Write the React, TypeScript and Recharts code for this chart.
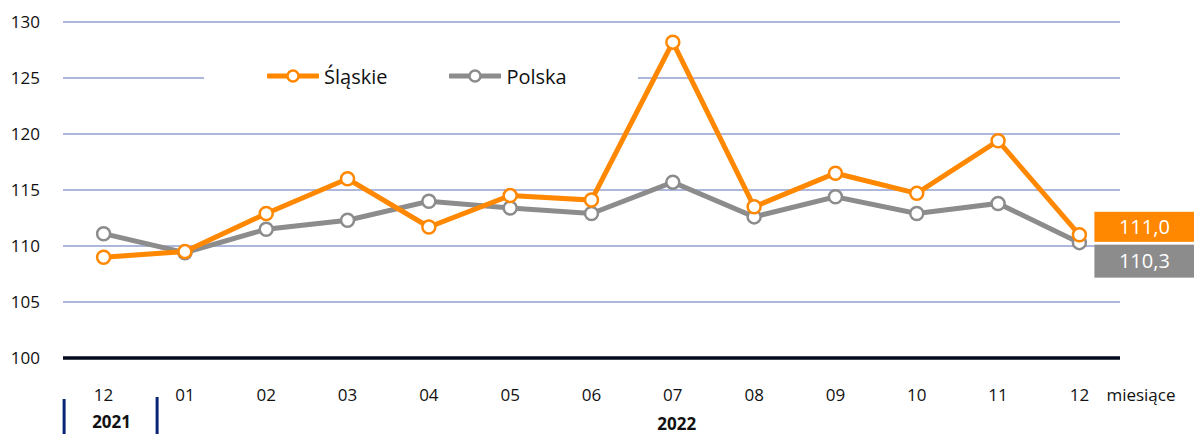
import React from 'react';
import { LineChart, Line, XAxis, YAxis, CartesianGrid, Legend, LabelList } from 'recharts';

const months = ['12', '01', '02', '03', '04', '05', '06', '07', '08', '09', '10', '11', '12'];
const slaskie = [109.0, 109.5, 112.9, 116.0, 111.7, 114.5, 114.1, 128.2, 113.5, 116.5, 114.7, 119.4, 111.0];
const polska = [111.1, 109.4, 111.5, 112.3, 114.0, 113.4, 112.9, 115.7, 112.6, 114.4, 112.9, 113.8, 110.3];
const yTicks = [100, 105, 110, 115, 120, 125, 130];

const ORANGE = '#ff8800';
const GRAY = '#8c8c8c';
const NAVY = '#0a2577';
const FONT = '"Open Sans", sans-serif';

const data = months.map((m, i) => ({ month: m, slaskie: slaskie[i], polska: polska[i] }));

const MonthTick = (props: any) => {
  const { x, y, payload, index } = props;
  const last = index === months.length - 1;
  return (
    <g>
      <text x={x} y={y + 35} textAnchor="middle" fontSize={17} fill="#111" fontFamily={FONT}>
        {payload.value}
      </text>
      {index === 0 && (
        <g>
          <rect x={x - 41} y={y + 33} width={3} height={50} fill={NAVY} />
          <rect x={x + 52} y={y + 31} width={3} height={50} fill={NAVY} />
          <text x={x + 8} y={y + 62} textAnchor="middle" fontSize={17} fontWeight="bold" fill="#111" fontFamily={FONT}>
            2021
          </text>
        </g>
      )}
      {index === 7 && (
        <text x={x + 4} y={y + 64} textAnchor="middle" fontSize={17} fontWeight="bold" fill="#111" fontFamily={FONT}>
          2022
        </text>
      )}
      {last && (
        <text x={x + 27} y={y + 35} textAnchor="start" fontSize={17} fill="#111" fontFamily={FONT}>
          miesiące
        </text>
      )}
    </g>
  );
};

const endLabel = (color: string, up: boolean) => (props: any) => {
  const { x, y, value, index } = props;
  if (index !== months.length - 1) return null;
  const bx = x + 15;
  const by = up ? y - 23 : y + 2;
  const h = up ? 30 : 33;
  return (
    <g>
      <rect x={bx} y={by} width={100} height={h} fill={color} />
      <text x={bx + 50} y={by + h / 2 + 7} textAnchor="middle" fontSize={20} fill="#fff" fontFamily={FONT}>
        {value.toFixed(1).replace('.', ',')}
      </text>
    </g>
  );
};

const LegendIcon = ({ color }: { color: string }) => (
  <svg width={52} height={14} style={{ marginRight: 5 }}>
    <line x1={1} y1={7} x2={51} y2={7} stroke={color} strokeWidth={5} strokeLinecap="round" />
    <circle cx={26} cy={7} r={5.5} fill="#fff" stroke={color} strokeWidth={2.5} />
  </svg>
);

const renderLegend = () => (
  <div style={{ display: 'flex', alignItems: 'center', height: '100%', fontFamily: FONT, fontSize: 20, color: '#111' }}>
    <div style={{ display: 'flex', alignItems: 'center', marginLeft: 63 }}>
      <LegendIcon color={ORANGE} />
      <span>Śląskie</span>
    </div>
    <div style={{ display: 'flex', alignItems: 'center', marginLeft: 62 }}>
      <LegendIcon color={GRAY} />
      <span>Polska</span>
    </div>
  </div>
);

export default function App() {
  return (
    <div style={{ position: 'absolute', left: 0, top: 0, width: 1194, height: 434, background: '#fff' }}>
      <LineChart width={1194} height={434} data={data} margin={{ top: 22, right: 74, bottom: 0, left: 0 }}>
        <CartesianGrid vertical={false} stroke="#5a70b8" strokeWidth={1} />
        <XAxis
          dataKey="month"
          padding={{ left: 40.6, right: 40.6 }}
          axisLine={{ stroke: '#050a1e', strokeWidth: 3.5 }}
          tickLine={false}
          tick={<MonthTick />}
          interval={0}
          height={76}
        />
        <YAxis
          domain={[100, 130]}
          ticks={yTicks}
          axisLine={false}
          tickLine={false}
          width={63}
          tick={{ fontSize: 17, fill: '#111', fontFamily: FONT, dx: -15, dy: 0 }}
        />
        <Legend
          layout="vertical"
          align="center"
          verticalAlign="middle"
          content={renderLegend}
          wrapperStyle={{ position: 'absolute', left: 204, top: 58, width: 434, height: 36, background: '#fff' }}
        />
        <Line
          dataKey="polska"
          name="Polska"
          stroke={GRAY}
          strokeWidth={5}
          dot={{ r: 6.5, fill: '#fff', stroke: GRAY, strokeWidth: 2.5 }}
          isAnimationActive={false}
        >
          <LabelList dataKey="polska" content={endLabel(GRAY, false)} />
        </Line>
        <Line
          dataKey="slaskie"
          name="Śląskie"
          stroke={ORANGE}
          strokeWidth={5}
          dot={{ r: 6.5, fill: '#fff', stroke: ORANGE, strokeWidth: 2.5 }}
          isAnimationActive={false}
        >
          <LabelList dataKey="slaskie" content={endLabel(ORANGE, true)} />
        </Line>
      </LineChart>
    </div>
  );
}
